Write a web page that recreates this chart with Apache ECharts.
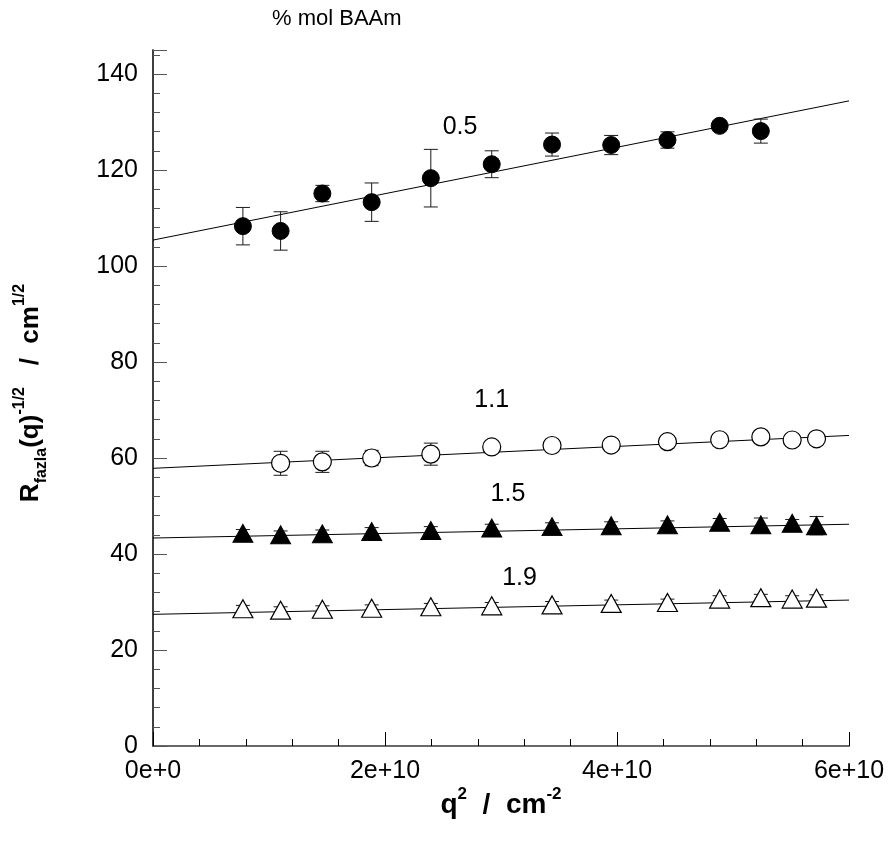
<!DOCTYPE html>
<html>
<head>
<meta charset="utf-8">
<script src="https://cdn.jsdelivr.net/npm/echarts@6/dist/echarts.min.js"></script>
<style>
  html, body { margin: 0; padding: 0; background: #fff; }
  #chart { width: 893px; height: 849px; }
</style>
</head>
<body>
<div id="chart"></div>
<script>
// Scattering vector squared, q^2 (cm^-2)
const q2 = [0.775e10, 1.10e10, 1.46e10, 1.885e10, 2.395e10, 2.92e10, 3.44e10,
            3.95e10, 4.435e10, 4.885e10, 5.24e10, 5.51e10, 5.72e10];

// 0.5 % mol BAAm (first 11 q^2 values)
const q2_05 = q2.slice(0, 11);
const r05   = [108.3, 107.3, 115.1, 113.3, 118.3, 121.2, 125.3, 125.2, 126.25, 129.2, 128.1];
const err05 = [3.9, 4.0, 1.7, 4.0, 6.0, 2.8, 2.4, 2.0, 1.7, 1.0, 2.5];

// 1.1 % mol BAAm (q^2 values 2..13)
const q2_11 = q2.slice(1, 13);
const r11   = [58.9, 59.2, 60.0, 60.8, 62.3, 62.6, 62.7, 63.4, 63.8, 64.4, 63.75, 64.0];
const err11 = [2.5, 2.2, 1.6, 2.3, 1.0, 1.0, 1.0, 1.0, 1.0, 1.0, 1.0, 1.0];

// 1.5 % mol BAAm
const r15   = [44.3, 44.0, 44.2, 44.7, 44.9, 45.4, 45.7, 45.9, 46.1, 46.6, 46.1, 46.4, 45.9];
const err15 = [0.8, 0.8, 0.8, 0.8, 0.8, 0.8, 0.8, 0.8, 0.8, 0.8, 1.4, 0.8, 1.9];

// 1.9 % mol BAAm
const r19   = [28.6, 28.3, 28.5, 28.7, 29.0, 29.2, 29.4, 29.7, 29.9, 30.6, 30.9, 30.6, 30.8];
const err19 = [0.7, 0.7, 0.7, 0.7, 0.7, 0.7, 0.7, 0.7, 0.7, 0.7, 0.7, 0.7, 0.7];

// Linear fits: value at q^2 = 0 and at q^2 = 6e10
const fitX  = [0, 6e10];
const fit05 = [105.4, 134.4];
const fit11 = [57.85, 64.7];
const fit15 = [43.33, 46.2];
const fit19 = [27.43, 30.4];

// Series labels (composition) and their anchor points
const labelText = ['0.5', '1.1', '1.5', '1.9'];
const labelX    = [2.647e10, 2.92e10, 3.06e10, 3.16e10];
const labelY    = [128.85, 72.1, 52.5, 35.0];

// Axis ticks
const xMajorStep = 2e10, xMinorStep = 4e9, xMax = 6e10;
const yMajorStep = 20, yMinorStep = 4, yMax = 145;

const FONT = 'Liberation Sans, Arial, Helvetica, sans-serif';

function pairs(xs, ys) { return ys.map((y, i) => [xs[i], y]); }

function errorBars(xs, ys, errs) {
  return {
    type: 'custom',
    z: 2,
    silent: true,
    data: ys.map((y, i) => [xs[i], y - errs[i], y + errs[i]]),
    encode: { x: 0, y: [1, 2] },
    renderItem(params, api) {
      const x = api.value(0);
      const lo = api.coord([x, api.value(1)]);
      const hi = api.coord([x, api.value(2)]);
      const w = 7;
      const st = { stroke: '#1a1a1a', lineWidth: 1 };
      return {
        type: 'group',
        children: [
          { type: 'line', shape: { x1: lo[0], y1: lo[1], x2: hi[0], y2: hi[1] }, style: st },
          { type: 'line', shape: { x1: lo[0] - w, y1: lo[1], x2: lo[0] + w, y2: lo[1] }, style: st },
          { type: 'line', shape: { x1: hi[0] - w, y1: hi[1], x2: hi[0] + w, y2: hi[1] }, style: st }
        ]
      };
    }
  };
}

function fitLine(vals) {
  return {
    type: 'line', z: 1, silent: true, symbol: 'none',
    data: pairs(fitX, vals),
    lineStyle: { color: '#000', width: 1 }
  };
}

function markers(xs, ys, symbol, size, filled) {
  return {
    type: 'scatter', z: 3, silent: true,
    symbol, symbolSize: size,
    data: pairs(xs, ys),
    itemStyle: filled
      ? { color: '#000', borderColor: '#000', borderWidth: 1, opacity: 1 }
      : { color: '#fff', borderColor: '#000', borderWidth: 1.2, opacity: 1 }
  };
}

const chart = echarts.init(document.getElementById('chart'));

chart.setOption({
  animation: false,
  backgroundColor: '#fff',
  grid: { left: 153, right: 44, top: 50, bottom: 103, containLabel: false },
  xAxis: [
    {
      type: 'value', min: 0, max: xMax, interval: xMajorStep, position: 'bottom',
      axisLine: { lineStyle: { color: '#000', width: 1.5 } },
      axisTick: { inside: true, length: 14, lineStyle: { color: '#000', width: 1 } },
      axisLabel: {
        fontFamily: FONT, fontSize: 25, color: '#000', margin: 13,
        formatter: v => v === 0 ? '0e+0' : (v / 1e10) + 'e+10'
      },
      splitLine: { show: false }
    },
    {
      type: 'value', min: 0, max: xMax, interval: xMinorStep, position: 'bottom',
      axisLine: { show: false },
      axisTick: { inside: true, length: 7, lineStyle: { color: '#000', width: 1 } },
      axisLabel: { show: false }, splitLine: { show: false }
    },
    {
      type: 'value', min: 0, max: xMax, position: 'top',
      axisLine: { lineStyle: { color: '#777', width: 1.5 } },
      axisTick: { show: false }, axisLabel: { show: false }, splitLine: { show: false }
    }
  ],
  yAxis: [
    {
      type: 'value', min: 0, max: yMax, interval: yMajorStep, position: 'left',
      axisLine: { lineStyle: { color: '#777', width: 1.5 } },
      axisTick: { inside: true, length: 14, lineStyle: { color: '#555', width: 1 } },
      axisLabel: {
        fontFamily: FONT, fontSize: 25, color: '#000', margin: 15,
        formatter: v => (v % yMajorStep === 0 ? String(v) : '')
      },
      splitLine: { show: false }
    },
    {
      type: 'value', min: 0, max: yMax, interval: yMinorStep, position: 'left',
      axisLine: { show: false },
      axisTick: { inside: true, length: 7, lineStyle: { color: '#555', width: 1 } },
      axisLabel: { show: false }, splitLine: { show: false }
    },
    {
      type: 'value', min: 0, max: yMax, position: 'right',
      axisLine: { lineStyle: { color: '#222', width: 1.5 } },
      axisTick: { show: false }, axisLabel: { show: false }, splitLine: { show: false }
    }
  ],
  series: [
    fitLine(fit05), fitLine(fit11), fitLine(fit15), fitLine(fit19),
    errorBars(q2_05, r05, err05),
    errorBars(q2_11, r11, err11),
    errorBars(q2, r15, err15),
    errorBars(q2, r19, err19),
    markers(q2_05, r05, 'circle', 17, true),
    markers(q2_11, r11, 'circle', 18, false),
    markers(q2, r15, 'triangle', [20, 18], true),
    markers(q2, r19, 'triangle', [20, 18], false),
    {
      type: 'scatter', z: 4, silent: true, symbolSize: 0,
      itemStyle: { opacity: 1 },
      data: labelText.map((t, i) => [labelX[i], labelY[i], t]),
      label: {
        show: true, position: 'inside', fontFamily: FONT, fontSize: 25, color: '#000',
        opacity: 1,
        formatter: p => p.data[2]
      }
    }
  ],
  graphic: [
    {
      type: 'text', left: 272, top: 8,
      style: { text: '% mol BAAm', fontFamily: FONT, fontSize: 22, fill: '#000' }
    },
    {
      type: 'text', x: 501, y: 805,
      style: {
        text: '{b|q}{p|2}{b|  /  cm}{p|-2}',
        align: 'center', verticalAlign: 'middle',
        rich: {
          b: { fontFamily: FONT, fontSize: 28, fontWeight: 'bold', fill: '#000', lineHeight: 38, verticalAlign: 'middle' },
          p: { fontFamily: FONT, fontSize: 17, fontWeight: 'bold', fill: '#000', verticalAlign: 'top' }
        }
      }
    },
    {
      type: 'text', x: 31, y: 393, rotation: Math.PI / 2,
      style: {
        text: '{b|R}{s|fazla}{b|(q)}{p|-1/2}{b|   /  cm}{p|1/2}',
        align: 'center', verticalAlign: 'middle',
        rich: {
          b: { fontFamily: FONT, fontSize: 26, fontWeight: 'bold', fill: '#000', lineHeight: 38, verticalAlign: 'middle' },
          s: { fontFamily: FONT, fontSize: 16, fontWeight: 'bold', fill: '#000', verticalAlign: 'bottom' },
          p: { fontFamily: FONT, fontSize: 16, fontWeight: 'bold', fill: '#000', verticalAlign: 'top' }
        }
      }
    }
  ]
});
</script>
</body>
</html>
